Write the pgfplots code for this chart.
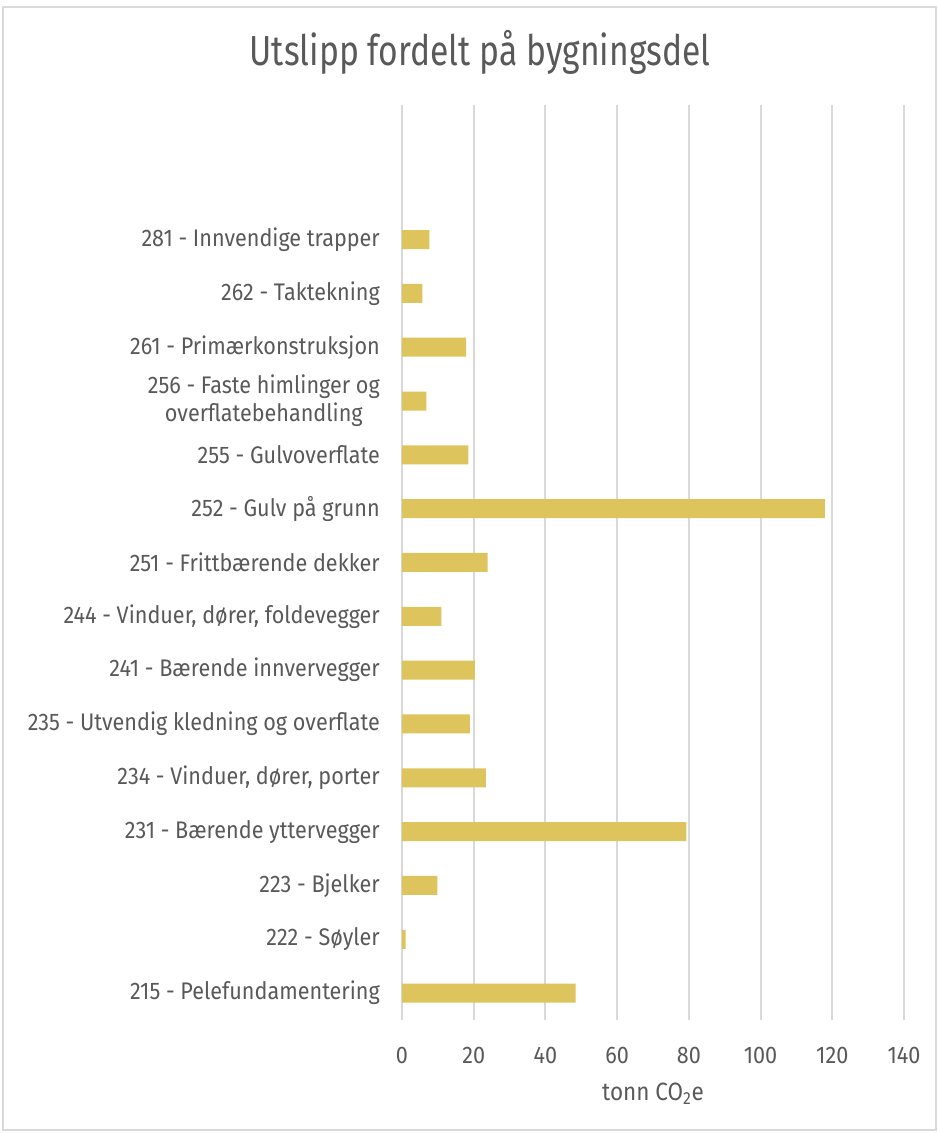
\documentclass[border=0pt]{standalone}
\usepackage{pgfplots}
\pgfplotsset{compat=1.18}
\usepackage{fontspec}
\setmainfont{Fira Sans}[FakeStretch=0.90]
\newfontfamily\titlefont{Fira Sans}[FakeStretch=0.80]
\definecolor{barc}{HTML}{DDC45C}
\definecolor{txt}{HTML}{595959}
\definecolor{gridc}{HTML}{D9D9D9}
\begin{document}
\begin{tikzpicture}[x=1pt,y=1pt]
\useasboundingbox (0,0) rectangle (939,1133);
\draw[gridc, line width=1.5pt] (3,3) rectangle (936,1126);
\node[txt, font=\titlefont\fontsize{42}{50}\selectfont] at (480,1081) {Utslipp fordelt på bygningsdel};
\begin{axis}[
  at={(402pt,113pt)}, anchor=south west,
  scale only axis, width=502pt, height=915pt,
  xbar, bar width=19pt,
  xmin=0, xmax=140, xtick={0,20,...,140},
  ymin=-0.5, ymax=16.5, ytick={0,...,14},
  yticklabels={215 - Pelefundamentering, 222 - Søyler, 223 - Bjelker, 231 - Bærende yttervegger, {234 - Vinduer, dører, porter}, 235 - Utvendig kledning og overflate, 241 - Bærende innvervegger, {244 - Vinduer, dører, foldevegger}, 251 - Frittbærende dekker, 252 - Gulv på grunn, 255 - Gulvoverflate, {256 - Faste himlinger og\\overflatebehandling}, 261 - Primærkonstruksjon, 262 - Taktekning, 281 - Innvendige trapper},
  axis line style={draw=none},
  major tick length=0pt,
  xmajorgrids, grid style={gridc, line width=2pt},
  /pgf/number format/assume math mode=true,
  ticklabel style={txt, font=\fontsize{24}{28}\selectfont},
  yticklabel style={anchor=east, inner sep=0pt, xshift=-22pt, align=center},
  xticklabel style={anchor=center, inner sep=0pt, yshift=-35pt},
  xlabel={tonn CO\textsubscript{2}e},
  xlabel style={txt, font=\fontsize{25}{28}\selectfont, at={(rel axis cs:0.5,0)}, anchor=center, yshift=-74pt},
]
\addplot[fill=barc, draw=none] coordinates {
(48.4,0) (1.0,1) (9.9,2) (79.3,3) (23.4,4) (18.9,5) (20.3,6) (11.0,7) (23.9,8) (117.9,9) (18.5,10) (6.8,11) (17.9,12) (5.7,13) (7.6,14)
};
\end{axis}
\end{tikzpicture}
\end{document}
